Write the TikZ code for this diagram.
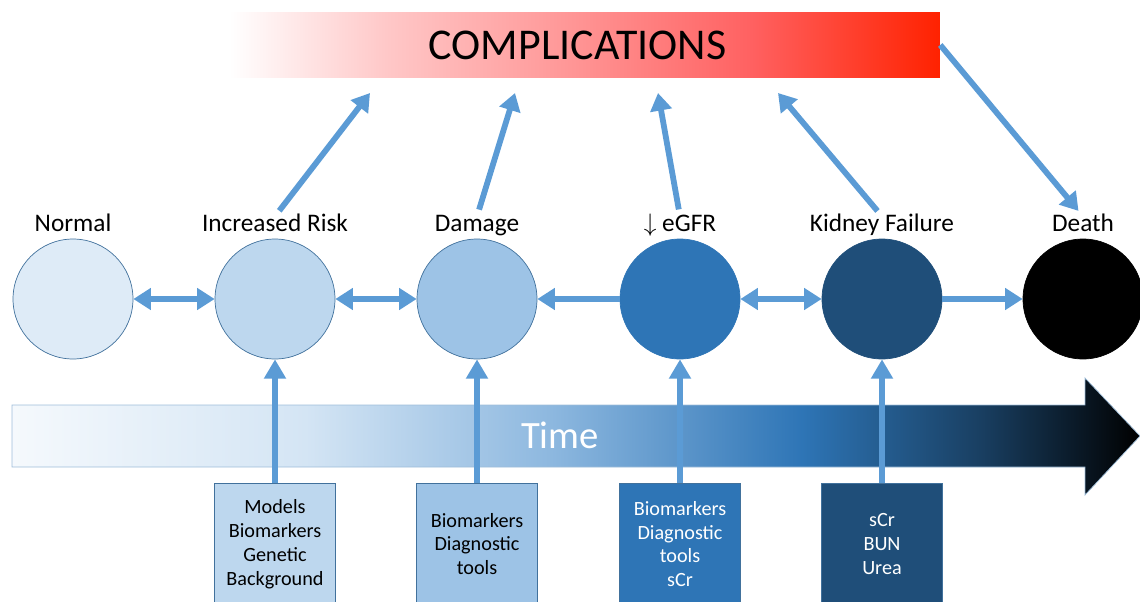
\documentclass[tikz,border=0pt]{standalone}
\usepackage{fontspec}
\setmainfont{Carlito}
\usepackage{xcolor}
\usetikzlibrary{arrows.meta,positioning,shapes,calc}

\definecolor{arrowblue}{HTML}{5B9BD5}
\definecolor{edgeblue}{HTML}{41719C}
\definecolor{stageA}{HTML}{DEEBF7}
\definecolor{stageB}{HTML}{BDD7EE}
\definecolor{stageC}{HTML}{9DC3E6}
\definecolor{stageD}{HTML}{2E75B6}
\definecolor{stageE}{HTML}{1F4E79}
\definecolor{compred}{HTML}{FF2200}

\pgfdeclarehorizontalshading{bannershade}{100bp}{color(0bp)=(white); color(26bp)=(white); color(37bp)=(red!22); color(50bp)=(red!42); color(62bp)=(red!62); color(75bp)=(compred); color(100bp)=(compred)}
\pgfdeclarehorizontalshading{timeshade}{100bp}{color(0bp)=(stageA!30); color(25bp)=(stageA!30); color(38bp)=(stageA!70!stageB); color(49bp)=(stageC!85!stageD); color(60bp)=(stageD); color(68bp)=(stageE!80!black); color(75bp)=(black); color(100bp)=(black)}

\begin{document}
\begin{tikzpicture}[x=0.02cm, y=-0.02cm,
  stage/.style={circle, thin, minimum size=2.4cm, inner sep=0pt},
  stagelab/.style={font=\fontsize{14.4}{17}\selectfont, text height=1.5ex, text depth=.45ex, inner sep=1pt},
  toolbox/.style={draw=edgeblue, thin, minimum width=2.42cm, minimum height=2.44cm, align=center, inner sep=2pt, font=\fontsize{11.5}{13.6}\selectfont},
  link/.style={arrowblue, line width=3.3pt},
  onehead/.style={-{Triangle[length=10pt,width=12pt]}},
  twoheads/.style={{Triangle[length=10pt,width=12pt]}-{Triangle[length=10pt,width=12pt]}},
  uphead/.style={-{Triangle[length=11pt,width=12pt]}}
]
\useasboundingbox (0,0) rectangle (1140,602);

% Complications banner
\node[shade, shading=bannershade, minimum width=14.5cm, minimum height=1.32cm,
      font=\fontsize{25}{30}\selectfont] (banner) at (577.5,45) {COMPLICATIONS};

% Time arrow
\shade[shading=timeshade, draw=stageB!75!edgeblue, thin] (12,405) -- (1085,405) -- (1085,378) -- (1140,436)
  -- (1085,495) -- (1085,467) -- (12,467) -- cycle;
\node[white, font=\fontsize{22}{26}\selectfont] (time) at (560,435) {Time};

% Disease stages
\foreach \n/\x/\c/\d/\t in {normal/73/stageA/edgeblue/Normal,
    risk/275/stageB/edgeblue/Increased Risk,
    damage/477/stageC/edgeblue/Damage,
    egfr/680/stageD/stageD/{$\downarrow$ eGFR},
    failure/882/stageE/stageE/Kidney Failure,
    death/1083/black/black/Death} {
  \node[stage, fill=\c, draw=\d] (\n) at (\x,299) {};
  \node[stagelab, above=1pt of \n] (\n-lab) {\t};
}

% Progression between stages
\draw[link, twoheads] (normal) -- (risk);
\draw[link, twoheads] (risk) -- (damage);
\draw[link, onehead] (egfr) -- (damage);
\draw[link, twoheads] (egfr) -- (failure);
\draw[link, onehead] (failure) -- (death);

% Stages leading to complications
\foreach \n/\x in {risk/370, damage/515, egfr/658, failure/778} {
  \coordinate (\n-hit) at (\x,93);
  \draw[link, onehead, shorten <=4pt] (\n-lab.north) -- (\n-hit);
}
\draw[link, onehead, shorten >=4pt] (banner.east) -- (death-lab.north);

% Tools for each stage
\foreach \n/\s/\x/\c/\f/\t in {models/risk/275/stageB/black/{Models\\Biomarkers\\Genetic\\Background},
    markers/damage/477/stageC/black/{Biomarkers\\Diagnostic\\tools},
    tests/egfr/680/stageD/white/{Biomarkers\\Diagnostic\\tools\\sCr},
    labs/failure/882/stageE/white/{sCr\\BUN\\Urea}} {
  \node[toolbox, fill=\c, text=\f] (\n) at (\x,544) {\t};
  \draw[link, uphead] (\n) -- (\s);
}

\end{tikzpicture}
\end{document}
